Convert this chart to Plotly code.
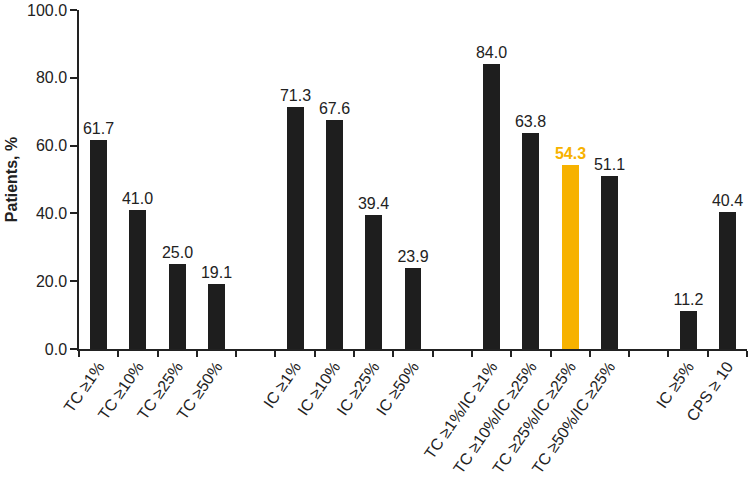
import plotly.graph_objects as go

categories = ["TC ≥1%", "TC ≥10%", "TC ≥25%", "TC ≥50%", " ",
              "IC ≥1%", "IC ≥10%", "IC ≥25%", "IC ≥50%", "  ",
              "TC ≥1%/IC ≥1%", "TC ≥10%/IC ≥25%", "TC ≥25%/IC ≥25%", "TC ≥50%/IC ≥25%", "   ",
              "IC ≥5%", "CPS ≥ 10"]
values = [61.7, 41.0, 25.0, 19.1, None,
          71.3, 67.6, 39.4, 23.9, None,
          84.0, 63.8, 54.3, 51.1, None,
          11.2, 40.4]
highlight = "TC ≥25%/IC ≥25%"

DARK = "#1e1e1e"
ORANGE = "#f7b200"
FONT = "Liberation Sans, Arial"
colors = [ORANGE if c == highlight else DARK for c in categories]
texts = ["" if v is None else (f"<b>{v:.1f}</b>" if c == highlight else f"{v:.1f}")
         for c, v in zip(categories, values)]
text_colors = [ORANGE if c == highlight else "#222222" for c in categories]

fig = go.Figure(go.Bar(
    x=categories, y=values, marker_color=colors, marker_line_width=0,
    width=0.43, text=texts, textposition="outside", cliponaxis=False,
    constraintext="none",
    textfont=dict(size=16, color=text_colors, family=FONT),
))

fig.update_layout(
    width=750, height=482,
    margin=dict(l=79, r=3, t=10, b=133, autoexpand=False),
    plot_bgcolor="white", paper_bgcolor="white",
    font=dict(family=FONT, size=16, color="#222222"),
    showlegend=False,
    bargap=0,
)
fig.update_xaxes(
    type="category", categoryorder="array", categoryarray=categories,
    tickson="boundaries", ticks="outside", ticklen=6, tickwidth=1.5, tickcolor="#222222",
    showline=True, linecolor="#222222", linewidth=1.5, automargin=False,
    tickangle=-55, tickfont=dict(size=16), showgrid=False,
)
fig.update_yaxes(
    range=[0, 100], tickvals=[0, 20, 40, 60, 80, 100], tickformat=".1f",
    ticks="outside", ticklen=7, tickwidth=1.5, tickcolor="#222222",
    showline=True, linecolor="#222222", linewidth=1.5, showgrid=False, zeroline=False,
    automargin=False, ticklabeloverflow="allow",
    title=dict(text="<b>Patients, %</b>", font=dict(size=16), standoff=5),
    tickfont=dict(size=16),
)

fig.write_html("out.html", config={"displayModeBar": False},
               post_script="document.body.style.margin='0';")
